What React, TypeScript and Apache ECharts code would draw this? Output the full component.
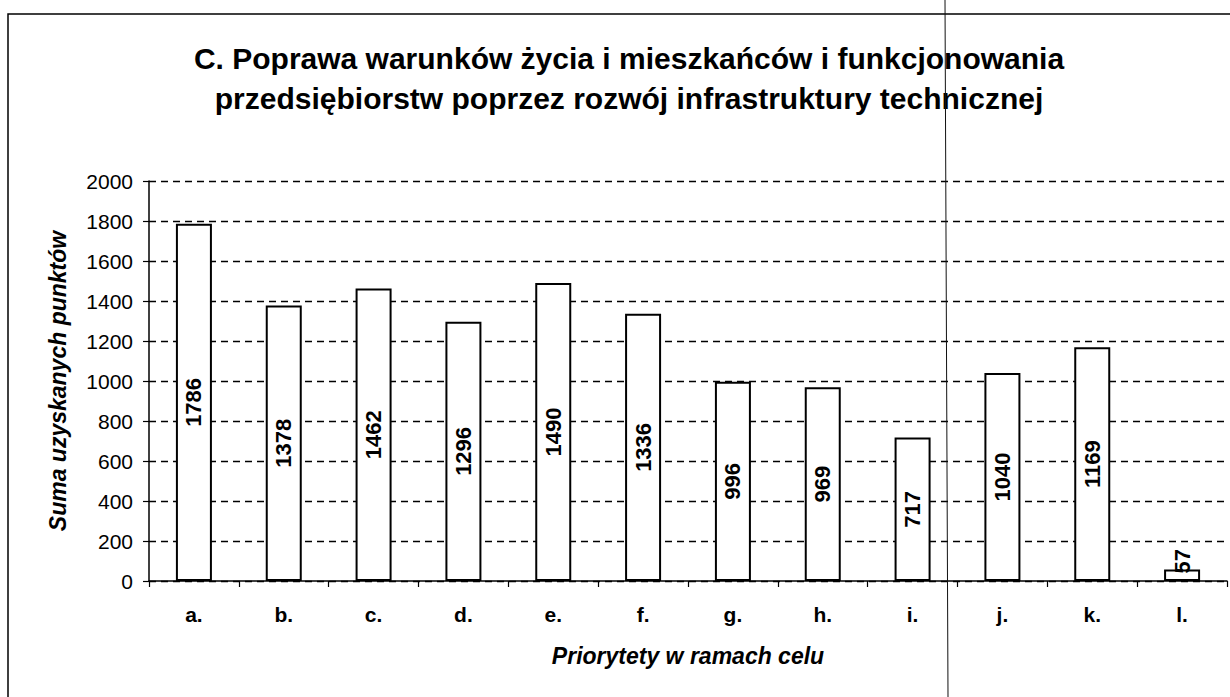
import React, { useEffect, useRef } from "react";
import * as echarts from "echarts";

const titleLines = [
  "C. Poprawa warunków życia i mieszkańców i funkcjonowania",
  "przedsiębiorstw poprzez rozwój infrastruktury technicznej",
];
const categories = ["a.", "b.", "c.", "d.", "e.", "f.", "g.", "h.", "i.", "j.", "k.", "l."];
const values = [1786, 1378, 1462, 1296, 1490, 1336, 996, 969, 717, 1040, 1169, 57];
const yAxisName = "Suma uzyskanych punktów";
const xAxisName = "Priorytety w ramach celu";
const yMin = 0;
const yMax = 2000;
const yStep = 200;

const FONT = "'Liberation Sans', Arial, sans-serif";

export default function App() {
  const ref = useRef<HTMLDivElement>(null);

  useEffect(() => {
    if (!ref.current) return;
    const chart = echarts.init(ref.current, null, { renderer: "svg" });

    const data = values.map((v) => {
      if (v < 150) {
        return {
          value: v,
          label: {
            show: true,
            position: "top",
            rotate: 90,
            align: "left",
            verticalAlign: "middle",
            distance: -4,
          },
        };
      }
      return { value: v };
    });

    chart.setOption({
      animation: false,
      backgroundColor: "#ffffff",
      textStyle: { fontFamily: FONT, color: "#000" },
      title: {
        text: titleLines.join("\n"),
        left: 624,
        top: 33,
        textAlign: "center",
        textStyle: {
          fontFamily: FONT,
          fontSize: 30,
          fontWeight: "bold",
          color: "#000",
          lineHeight: 40,
        },
      },
      grid: { left: 149, right: 3, top: 181, bottom: 116, containLabel: false },
      xAxis: {
        type: "category",
        data: categories,
        boundaryGap: true,
        axisLine: { show: true, lineStyle: { color: "#000", width: 1.5 } },
        axisTick: { show: true, length: 6, lineStyle: { color: "#000", width: 1.2 } },
        axisLabel: {
          color: "#000",
          fontFamily: FONT,
          fontSize: 21,
          fontWeight: "bold",
          margin: 23,
        },
        name: xAxisName,
        nameLocation: "middle",
        nameGap: 63,
        nameTextStyle: {
          fontFamily: FONT,
          fontSize: 23,
          fontWeight: "bold",
          fontStyle: "italic",
          color: "#000",
        },
      },
      yAxis: {
        type: "value",
        min: yMin,
        max: yMax,
        interval: yStep,
        axisLine: { show: true, lineStyle: { color: "#000", width: 1.5 } },
        axisTick: { show: true, length: 6, lineStyle: { color: "#000", width: 1.2 } },
        axisLabel: {
          color: "#000",
          fontFamily: FONT,
          fontSize: 21,
          margin: 16,
          formatter: (v: number) => String(v),
        },
        splitLine: {
          show: true,
          lineStyle: { color: "#000", width: 1.3, type: [7, 5] },
        },
        name: yAxisName,
        nameLocation: "middle",
        nameGap: 80,
        nameRotate: 90,
        nameTextStyle: {
          fontFamily: FONT,
          fontSize: 23,
          fontWeight: "bold",
          fontStyle: "italic",
          color: "#000",
        },
      },
      series: [
        {
          type: "bar",
          data,
          barWidth: 36,
          itemStyle: { color: "#ffffff", borderColor: "#000", borderWidth: 2 },
          label: {
            show: true,
            position: "inside",
            rotate: 90,
            fontFamily: FONT,
            fontSize: 22,
            fontWeight: "bold",
            color: "#000",
          },
        },
      ],
      graphic: [
        {
          type: "rect",
          silent: true,
          z: -1,
          shape: { x: 8, y: 14, width: 1400, height: 900 },
          style: { fill: "none", stroke: "#000", lineWidth: 1.5 },
        },
        {
          type: "line",
          silent: true,
          z: 100,
          shape: { x1: 945, y1: 0, x2: 948, y2: 697 },
          style: { stroke: "#111", lineWidth: 1 },
        },
      ],
    });

    return () => chart.dispose();
  }, []);

  return (
    <div
      ref={ref}
      style={{ position: "fixed", left: 0, top: 0, width: 1230, height: 697 }}
    />
  );
}
